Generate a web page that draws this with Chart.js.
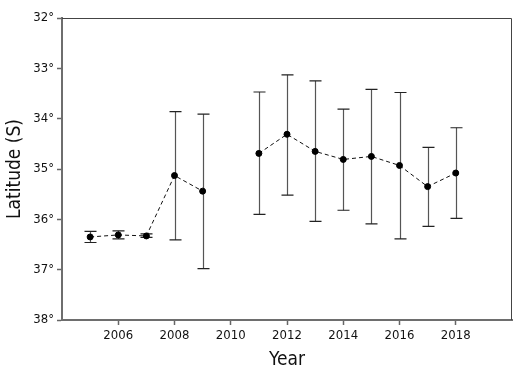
<!DOCTYPE html>
<html>
<head>
<meta charset="utf-8">
<script src="https://cdn.jsdelivr.net/npm/chart.js@4.4.1/dist/chart.umd.min.js"></script>
<style>
  html, body { margin: 0; padding: 0; background: #fff; }
  #wrap { width: 520px; height: 375px; }
</style>
</head>
<body>
<div id="wrap"><canvas id="chart" width="520" height="375"></canvas></div>
<script>
// values (degrees south)
const years = [2005, 2006, 2007, 2008, 2009, 2010, 2011, 2012, 2013, 2014, 2015, 2016, 2017, 2018];
const latMean = [36.35, 36.31, 36.33, 35.13, 35.44, null, 34.69, 34.31, 34.65, 34.81, 34.75, 34.93, 35.35, 35.08];
const latLow = [36.24, 36.23, 36.29, 33.86, 33.91, null, 33.47, 33.13, 33.25, 33.81, 33.42, 33.48, 34.57, 34.18];
const latHigh = [36.46, 36.39, 36.36, 36.41, 36.98, null, 35.90, 35.52, 36.04, 35.82, 36.09, 36.39, 36.14, 35.98];
const xTicks = [2006, 2008, 2010, 2012, 2014, 2016, 2018];
const yTicks = [32, 33, 34, 35, 36, 37, 38];

const FONT = "'DejaVu Sans Condensed', 'Liberation Sans', sans-serif";

// error bars + frame
const errorBars = {
  id: "errorBars",
  beforeDatasetsDraw(chart) {
    const { ctx, scales: { x, y } } = chart;
    ctx.save();
    ctx.lineWidth = 1.2;
    years.forEach((yr, i) => {
      if (latLow[i] == null) return;
      const px = Math.round(x.getPixelForValue(yr)) + 0.5;
      const top = y.getPixelForValue(latLow[i]);
      const bot = y.getPixelForValue(latHigh[i]);
      ctx.strokeStyle = "#555";
      ctx.beginPath();
      ctx.moveTo(px, top);
      ctx.lineTo(px, bot);
      ctx.stroke();
      ctx.strokeStyle = "#222";
      ctx.beginPath();
      ctx.moveTo(px - 6, top);
      ctx.lineTo(px + 6, top);
      ctx.moveTo(px - 6, bot);
      ctx.lineTo(px + 6, bot);
      ctx.stroke();
    });
    ctx.restore();
  },
  afterDraw(chart) {
    const { ctx, chartArea: a } = chart;
    ctx.save();
    ctx.strokeStyle = "#444";
    ctx.lineWidth = 1;
    ctx.beginPath();
    ctx.moveTo(a.left, a.top + 0.5);
    ctx.lineTo(a.right - 0.5, a.top + 0.5);
    ctx.lineTo(a.right - 0.5, a.bottom);
    ctx.stroke();
    ctx.restore();
  },
};

new Chart(document.getElementById("chart"), {
  type: "line",
  data: {
    datasets: [
      {
        data: years.map((yr, i) => ({ x: yr, y: latMean[i] })),
        borderColor: "#111",
        borderWidth: 1,
        borderDash: [4, 3],
        pointRadius: 3,
        pointBackgroundColor: "#000",
        pointBorderColor: "#000",
        spanGaps: false,
        fill: false,
      },
    ],
  },
  options: {
    responsive: false,
    animation: false,
    layout: { padding: { top: 18, right: 8, left: 0, bottom: 0 } },
    plugins: { legend: { display: false }, tooltip: { enabled: false } },
    scales: {
      x: {
        type: "linear",
        min: 2004,
        max: 2020,
        afterBuildTicks: (s) => { s.ticks = xTicks.map((v) => ({ value: v })); },
        afterFit: (s) => { s.height = 55; },
        ticks: { color: "#111", font: { family: FONT, size: 13 }, padding: 3, maxRotation: 0, callback: (v) => String(v) },
        grid: { drawOnChartArea: false, tickLength: 5, tickColor: "#666", tickWidth: 1.5 },
        border: { color: "#6e6e6e", width: 2 },
        title: { display: true, text: "Year", color: "#111", font: { family: FONT, size: 19 }, padding: { top: 1 } },
      },
      y: {
        reverse: true,
        min: 32,
        max: 38,
        afterBuildTicks: (s) => { s.ticks = yTicks.map((v) => ({ value: v })); },
        afterFit: (s) => { s.width = 62; },
        ticks: { color: "#111", font: { family: FONT, size: 13 }, padding: 3, callback: (v) => v + "°" },
        grid: { drawOnChartArea: false, tickLength: 5, tickColor: "#666", tickWidth: 1.5 },
        border: { color: "#6e6e6e", width: 2 },
        title: { display: true, text: "Latitude (S)", color: "#111", font: { family: FONT, size: 19 }, padding: { bottom: 1 } },
      },
    },
  },
  plugins: [errorBars],
});
</script>
</body>
</html>
